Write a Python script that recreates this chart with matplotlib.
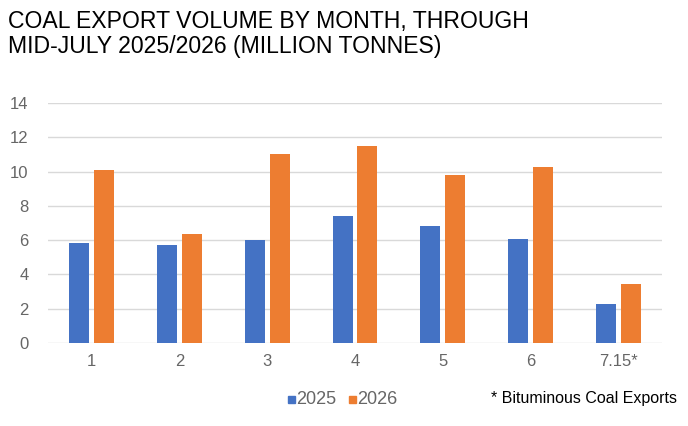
import numpy as np
import matplotlib.pyplot as plt
from matplotlib.patches import Rectangle

plt.rcParams['font.family'] = ['Liberation Sans', 'DejaVu Sans']

# Coal export volume (million tonnes)
months = ["1", "2", "3", "4", "5", "6", "7.15*"]
exports_2025 = [5.83, 5.70, 6.00, 7.43, 6.80, 6.09, 2.29]
exports_2026 = [10.10, 6.34, 11.03, 11.51, 9.82, 10.27, 3.44]

blue = "#4472C4"
orange = "#ED7D31"

fig = plt.figure(figsize=(6.88, 4.26), dpi=100)
ax = fig.add_axes([48 / 688, 1 - 343 / 426, 614 / 688, 240 / 426])

x = np.arange(len(months))
w = 0.227
ax.bar(x - 0.142, exports_2025, w, color=blue, zorder=3)
ax.bar(x + 0.142, exports_2026, w, color=orange, zorder=3)

ax.set_xlim(-0.5, len(months) - 0.5)
ax.set_ylim(0, 14)
ax.set_yticks(range(0, 15, 2))
ax.set_xticks(x)
ax.set_xticklabels(months)
ax.grid(axis="y", color="#D9D9D9", linewidth=1, zorder=0)
for s in ax.spines.values():
    s.set_visible(False)
ax.tick_params(length=0, labelsize=12, colors="#666666", pad=8)
ax.tick_params(axis="y", pad=14)

# Title
fig.text(8 / 688, 1 - 10 / 426,
         "COAL EXPORT VOLUME BY MONTH, THROUGH\nMID-JULY 2025/2026 (MILLION TONNES)",
         fontsize=16.6, color="black", va="top", ha="left", linespacing=1.12)

# Legend
ly = 1 - 399 / 426
for xs, col, lab in [(288, blue, "2025"), (349, orange, "2026")]:
    fig.patches.append(Rectangle((xs / 688, ly - 3.5 / 426), 7 / 688, 7 / 426,
                                 color=col, transform=fig.transFigure))
    fig.text((xs + 8) / 688, ly, lab, fontsize=13, color="#666666", va="center", ha="left")

fig.text(491 / 688, ly, "* Bituminous Coal Exports", fontsize=11.5, color="black",
         va="center", ha="left")

fig.savefig("out.png", dpi=100)
